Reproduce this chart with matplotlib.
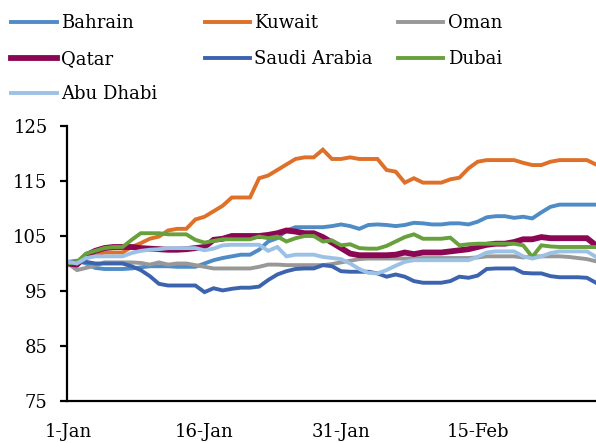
import numpy as np
import matplotlib
matplotlib.use("Agg")
import matplotlib.pyplot as plt

plt.rcParams['font.family'] = ['DejaVu Serif']

# daily index, 1-Jan = 100 (59 days, 1-Jan to 28-Feb)
bahrain = [100.3, 100.5, 100, 99.2, 99, 99, 99, 99.1, 99.3, 99.5,
           99.5, 99.5, 99.4, 99.4, 99.4, 100, 100.6, 101, 101.3, 101.6,
           101.6, 102.5, 104, 104.6, 106, 106.6, 106.6, 106.6, 106.6, 106.8,
           107.1, 106.8, 106.3, 107, 107.1, 107, 106.8, 107, 107.4, 107.3,
           107.1, 107.1, 107.3, 107.3, 107.1, 107.6, 108.4, 108.6, 108.6, 108.3,
           108.5, 108.2, 109.3, 110.3, 110.7, 110.7, 110.7, 110.7, 110.7]
kuwait = [100, 100.3, 101, 101.5, 102, 102, 102, 103, 103.7, 104.5,
          104.9, 106, 106.3, 106.3, 108, 108.5, 109.5, 110.5, 112, 112,
          112, 115.5, 116, 117, 118, 119, 119.3, 119.3, 120.7, 119,
          119, 119.3, 119, 119, 119, 117, 116.7, 114.7, 115.5, 114.7,
          114.7, 114.7, 115.3, 115.6, 117.3, 118.5, 118.8, 118.8, 118.8, 118.8,
          118.3, 117.9, 117.9, 118.5, 118.8, 118.8, 118.8, 118.8, 118]
oman = [100, 98.8, 99.2, 99.6, 100.2, 100.2, 100.2, 100.2, 100.1, 99.8,
        100.2, 99.8, 100, 100, 99.7, 99.4, 99.1, 99.1, 99.1, 99.1,
        99.1, 99.4, 99.8, 99.8, 99.7, 99.7, 99.7, 99.7, 99.7, 99.9,
        100.2, 100.5, 100.8, 100.9, 100.9, 100.9, 100.9, 100.9, 100.9, 101,
        101, 101, 101, 101, 101, 101.1, 101.3, 101.3, 101.3, 101.3,
        101.1, 101.3, 101.3, 101.3, 101.3, 101.2, 101, 100.8, 100.4]
qatar = [100, 99.8, 101.5, 102.3, 102.8, 103, 103, 103, 102.8, 102.7,
         102.6, 102.5, 102.5, 102.6, 102.8, 103, 104.3, 104.5, 105, 105,
         105, 105, 105.2, 105.5, 106, 105.8, 105.5, 105.5, 104.8, 103.8,
         102.8, 101.8, 101.5, 101.5, 101.5, 101.5, 101.6, 102, 101.7, 102,
         102, 102, 102.2, 102.4, 102.6, 103, 103.4, 103.6, 103.6, 103.9,
         104.4, 104.4, 104.8, 104.6, 104.6, 104.6, 104.6, 104.6, 103.3]
saudi = [100, 100.3, 100.3, 100, 100, 100, 100, 99.5, 98.8, 97.7,
         96.3, 96, 96, 96, 96, 94.8, 95.5, 95.1, 95.4, 95.6,
         95.6, 95.8, 97, 98, 98.6, 99, 99.1, 99.1, 99.7, 99.5,
         98.6, 98.5, 98.5, 98.5, 98.2, 97.6, 98, 97.6, 96.8, 96.5,
         96.5, 96.5, 96.8, 97.6, 97.4, 97.8, 99, 99.1, 99.1, 99.1,
         98.3, 98.2, 98.2, 97.7, 97.5, 97.5, 97.5, 97.4, 96.5]
dubai = [100, 100.3, 101.8, 102.3, 102.8, 103, 103, 104.3, 105.5, 105.5,
         105.5, 105.3, 105.3, 105.3, 104.3, 103.8, 104.1, 104.4, 104.4, 104.4,
         104.4, 104.9, 104.6, 104.9, 104, 104.6, 105, 105, 104, 104.2,
         103.3, 103.5, 102.8, 102.7, 102.7, 103.2, 104, 104.8, 105.3, 104.5,
         104.5, 104.5, 104.7, 103.3, 103.5, 103.6, 103.6, 103.6, 103.6, 103.6,
         103.3, 101.2, 103.3, 103.1, 103, 103, 103, 103, 103]
abu_dhabi = [100.3, 100, 101, 101.3, 101.3, 101.3, 101.3, 101.9, 102.3, 102.5,
             102.6, 102.8, 102.8, 102.8, 102.8, 102.4, 102.7, 103.3, 103.4, 103.4,
             103.4, 103.4, 102.3, 103, 101.3, 101.6, 101.6, 101.6, 101.2, 101,
             100.8, 100, 99, 98.3, 98.2, 98.8, 99.6, 100.3, 100.6, 100.6,
             100.6, 100.6, 100.6, 100.6, 100.6, 101.2, 102, 102.2, 102.2, 102.2,
             101.3, 100.9, 101.3, 101.9, 102.2, 102.2, 102.2, 102.2, 101.2]

series_names = ["Bahrain", "Kuwait", "Oman", "Qatar", "Saudi Arabia", "Dubai", "Abu Dhabi"]
colores = ["#4F8CC5", "#DE7029", "#989898", "#8B0753", "#3C63AE", "#68A03C", "#9DC1E5"]
anchos = [2.8, 2.8, 2.8, 4.2, 2.8, 2.8, 2.8]

tick_pos = [0, 15, 30, 45]
tick_labels = ["1-Jan", "16-Jan", "31-Jan", "15-Feb"]

datos = [bahrain, kuwait, oman, qatar, saudi, dubai, abu_dhabi]
dias = np.arange(len(bahrain))

fig = plt.figure(figsize=(5.96, 4.43), dpi=100)
ax = fig.add_axes([0.1124, 0.0948, 0.8876, 0.6208])

lineas = []
for nombre, serie, c, w in zip(series_names, datos, colores, anchos):
    l, = ax.plot(dias, serie, color=c, lw=w, label=nombre, solid_joinstyle='miter')
    lineas.append(l)

ax.set_ylim(75, 125)
ax.set_yticks([75, 85, 95, 105, 115, 125])
ax.set_xlim(-0.1, 58)
ax.set_xticks(tick_pos)
ax.set_xticklabels(tick_labels)

for s in ["top", "right"]:
    ax.spines[s].set_visible(False)
for s in ["left", "bottom"]:
    ax.spines[s].set_linewidth(1.6)
ax.tick_params(axis='y', length=5, width=1.6, direction='out', labelsize=13, pad=9)
ax.tick_params(axis='x', length=0, labelsize=13, pad=16)

# leyenda en tres columnas, leida por filas
columnas = [[0, 3, 6], [1, 4], [2, 5]]
x_col = [-0.002, 0.322, 0.647]
for xc, idx in zip(x_col, columnas):
    leg = fig.legend([lineas[i] for i in idx], [series_names[i] for i in idx],
                     loc='upper left', bbox_to_anchor=(xc, 0.996), frameon=False,
                     fontsize=13, handlelength=2.5, handletextpad=0.25,
                     labelspacing=0.97, borderaxespad=0.3)

plt.savefig("out.png", dpi=100)
